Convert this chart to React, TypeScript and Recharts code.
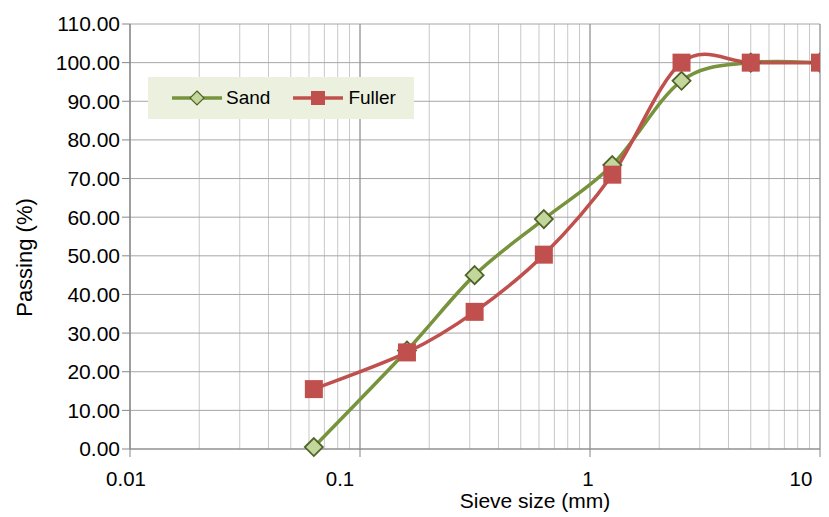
import React from 'react';
import { LineChart, Line, XAxis, YAxis, CartesianGrid, ReferenceLine, Legend, Label } from 'recharts';

// ---- data ----
const sieveSizes = [0.063, 0.16, 0.315, 0.63, 1.25, 2.5, 5, 10];
const sandPassing = [0.5, 25.5, 45, 59.5, 73.5, 95.3, 100, 100];
const fullerPassing = [15.5, 25, 35.5, 50.3, 71, 100, 100, 100];
const seriesNames = ['Sand', 'Fuller'];
const decadeTicks = [0.01, 0.1, 1, 10];
const decadeLabels = ['0.01', '0.1', '1', '10'];
const minorTicks = [
  0.02, 0.03, 0.04, 0.05, 0.06, 0.07, 0.08, 0.09,
  0.2, 0.3, 0.4, 0.5, 0.6, 0.7, 0.8, 0.9,
  2, 3, 4, 5, 6, 7, 8, 9,
];
const yTicks = [0, 10, 20, 30, 40, 50, 60, 70, 80, 90, 100, 110];
const xTitle = 'Sieve size (mm)';
const yTitle = 'Passing (%)';

// label nudges (style only) to mimic the reference label placement
const labelShift = [-4, -20, -2, -19];

const data = sieveSizes.map((x, i) => ({ x, sand: sandPassing[i], fuller: fullerPassing[i] }));
const allXTicks = [...decadeTicks, ...minorTicks].sort((a, b) => a - b);

const SAND = '#77933C';
const SAND_FILL = '#C3D69B';
const SAND_EDGE = '#4F6228';
const FULLER = '#C0504D';
const FONT = '"Liberation Sans", Arial, sans-serif';

// Excel-like smoothed curve (Catmull-Rom style Bezier)
function excelCurve(context: any) {
  let pts: number[][] = [];
  return {
    areaStart() {},
    areaEnd() {},
    lineStart() {
      pts = [];
    },
    lineEnd() {
      const n = pts.length;
      if (!n) return;
      context.moveTo(pts[0][0], pts[0][1]);
      for (let i = 0; i < n - 1; i++) {
        const p0 = pts[Math.max(i - 1, 0)];
        const p1 = pts[i];
        const p2 = pts[i + 1];
        const p3 = pts[Math.min(i + 2, n - 1)];
        context.bezierCurveTo(
          p1[0] + (p2[0] - p0[0]) / 6,
          p1[1] + (p2[1] - p0[1]) / 6,
          p2[0] - (p3[0] - p1[0]) / 6,
          p2[1] - (p3[1] - p1[1]) / 6,
          p2[0],
          p2[1]
        );
      }
    },
    point(x: number, y: number) {
      pts.push([+x, +y]);
    },
  };
}

const renderDiamond = (props: any) => {
  const { cx, cy, index } = props;
  if (cx == null || cy == null) return <g key={`d-${index}`} />;
  const r = 9;
  return (
    <polygon
      key={`d-${index}`}
      points={`${cx},${cy - r} ${cx + r},${cy} ${cx},${cy + r} ${cx - r},${cy}`}
      fill={SAND_FILL}
      stroke={SAND_EDGE}
      strokeWidth={1.8}
    />
  );
};

const renderSquare = (props: any) => {
  const { cx, cy, index } = props;
  if (cx == null || cy == null) return <g key={`s-${index}`} />;
  const h = 9;
  return <rect key={`s-${index}`} x={cx - h} y={cy - h} width={2 * h} height={2 * h} fill={FULLER} />;
};

const XTick = (props: any) => {
  const { x, y, payload } = props;
  const idx = decadeTicks.indexOf(payload.value);
  if (idx < 0) return <g />;
  return (
    <g>
      <line x1={x} x2={x} y1={y - 8} y2={y} stroke="#868686" strokeWidth={1} />
      <text x={x + labelShift[idx]} y={y + 29} textAnchor="middle" fontSize={20.5} fill="#000" fontFamily={FONT}>
        {decadeLabels[idx]}
      </text>
    </g>
  );
};

const LegendBox = () => (
  <div
    style={{
      width: 266,
      height: 42,
      background: '#EBF1DE',
      display: 'flex',
      alignItems: 'center',
      boxSizing: 'border-box',
      paddingLeft: 24,
      fontSize: 19,
      fontFamily: FONT,
      color: '#000',
    }}
  >
    <svg width={50} height={20}>
      <line x1={0} x2={50} y1={10} y2={10} stroke={SAND} strokeWidth={3.5} />
      <polygon points="25,3 32,10 25,17 18,10" fill={SAND_FILL} stroke={SAND_EDGE} strokeWidth={1.2} />
    </svg>
    <span style={{ marginLeft: 4 }}>{seriesNames[0]}</span>
    <svg width={50} height={20} style={{ marginLeft: 23 }}>
      <line x1={0} x2={50} y1={10} y2={10} stroke={FULLER} strokeWidth={3.5} />
      <rect x={18} y={3} width={14} height={14} fill={FULLER} />
    </svg>
    <span style={{ marginLeft: 5 }}>{seriesNames[1]}</span>
  </div>
);

export default function App() {
  return (
    <div style={{ position: 'absolute', left: 0, top: 0, width: 829, height: 517, background: '#fff', fontFamily: FONT }}>
      <LineChart width={829} height={517} data={data} margin={{ top: 24, right: 9, left: 0, bottom: 0 }}>
        <CartesianGrid stroke="#c8c8c8" horizontal={false} vertical={true} />
        <CartesianGrid stroke="#a6a6a6" horizontal={true} vertical={false} />
        {decadeTicks.map((d) => (
          <ReferenceLine key={d} x={d} stroke="#8c8c8c" strokeWidth={1} />
        ))}
        <XAxis
          dataKey="x"
          type="number"
          scale="log"
          domain={[0.01, 10]}
          ticks={allXTicks}
          interval={0}
          allowDataOverflow
          tickLine={false}
          tickSize={8}
          tickMargin={0}
          tick={<XTick />}
          axisLine={{ stroke: '#868686' }}
          height={68}
        >
          <Label
            content={(p: any) => {
              const vb = p.viewBox || { x: 130, y: 449, width: 690, height: 68 };
              return (
                <text x={vb.x + vb.width / 2 + 60} y={vb.y + 59} textAnchor="middle" fontSize={21} fill="#000" fontFamily={FONT}>
                  {xTitle}
                </text>
              );
            }}
          />
        </XAxis>
        <YAxis
          type="number"
          domain={[0, 110]}
          ticks={yTicks}
          interval={0}
          tickFormatter={(v: number) => v.toFixed(2)}
          tick={{ fill: '#000', fontSize: 21, fontFamily: FONT }}
          tickSize={8}
          tickMargin={2}
          tickLine={{ stroke: '#868686' }}
          axisLine={{ stroke: '#868686' }}
          width={130}
        >
          <Label
            content={(p: any) => {
              const vb = p.viewBox || { x: 0, y: 24, width: 130, height: 425 };
              const cx = vb.x + 24;
              const cy = vb.y + vb.height / 2 + 21;
              return (
                <text
                  x={cx}
                  y={cy}
                  transform={`rotate(-90, ${cx}, ${cy})`}
                  textAnchor="middle"
                  dominantBaseline="central"
                  fontSize={22}
                  fill="#000"
                  fontFamily={FONT}
                >
                  {yTitle}
                </text>
              );
            }}
          />
        </YAxis>
        <Legend
          layout="horizontal"
          verticalAlign="middle"
          align="center"
          wrapperStyle={{ left: 148, top: 77, width: 266, height: 42 }}
          content={() => <LegendBox />}
        />
        <Line
          dataKey="sand"
          name={seriesNames[0]}
          type={excelCurve as any}
          stroke={SAND}
          strokeWidth={3.5}
          dot={renderDiamond}
          activeDot={false}
          isAnimationActive={false}
        />
        <Line
          dataKey="fuller"
          name={seriesNames[1]}
          type={excelCurve as any}
          stroke={FULLER}
          strokeWidth={3.5}
          dot={renderSquare}
          activeDot={false}
          isAnimationActive={false}
        />
      </LineChart>
    </div>
  );
}
